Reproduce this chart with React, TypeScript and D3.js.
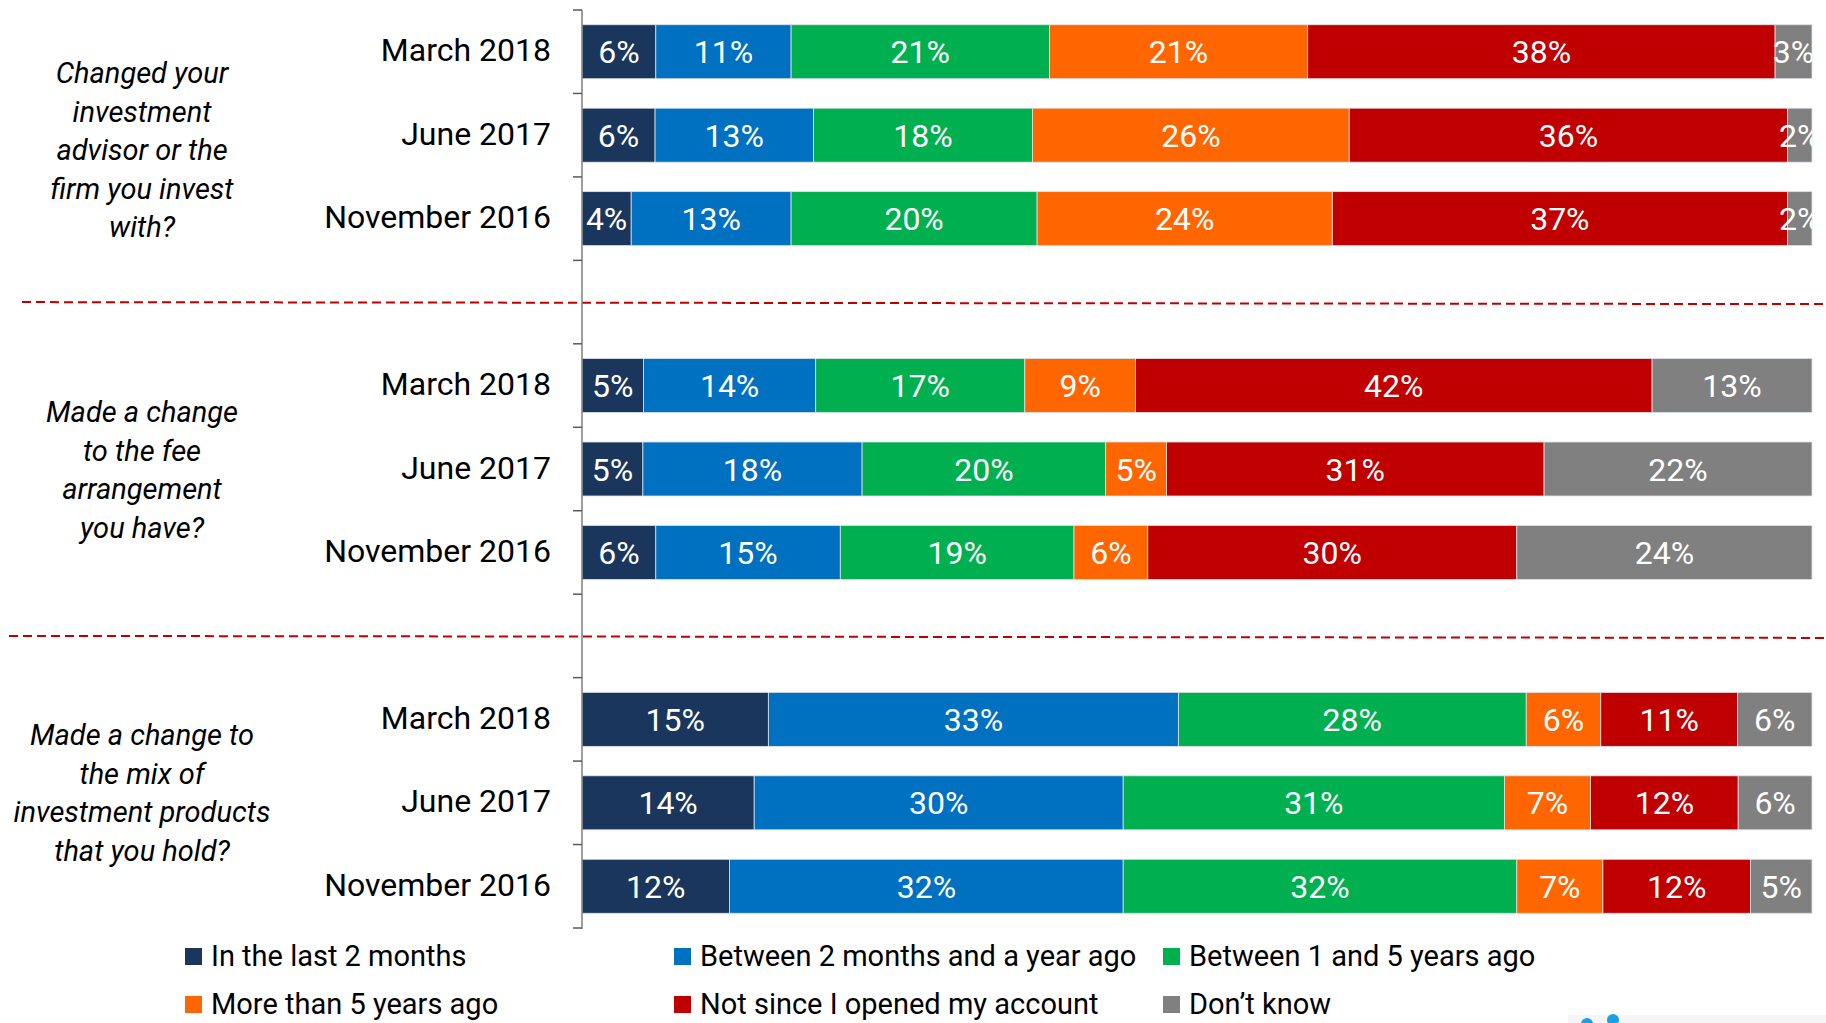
import React from "react";
import * as d3 from "d3";

// ---------- data ----------
const periods = ["March 2018", "June 2017", "November 2016"];

const questionLines = [
  ["Changed your", "investment", "advisor or the", "firm you invest", "with?"],
  ["Made a change", "to the fee", "arrangement", "you have?"],
  ["Made a change to", "the mix of", "investment products", "that you hold?"],
];

const seriesNames = [
  "In the last 2 months",
  "Between 2 months and a year ago",
  "Between 1 and 5 years ago",
  "More than 5 years ago",
  "Not since I opened my account",
  "Don\u2019t know",
];

const seriesColors = ["#1B365D", "#0070C0", "#00B050", "#FF6600", "#C00000", "#808080"];

// values per period (March 2018, June 2017, November 2016), per series
const advisorValues = [
  [6, 11, 21, 21, 38, 3],
  [6, 13, 18, 26, 36, 2],
  [4, 13, 20, 24, 37, 2],
];
const feeValues = [
  [5, 14, 17, 9, 42, 13],
  [5, 18, 20, 5, 31, 22],
  [6, 15, 19, 6, 30, 24],
];
const mixValues = [
  [15, 33, 28, 6, 11, 6],
  [14, 30, 31, 7, 12, 6],
  [12, 32, 32, 7, 12, 5],
];
const questionValues = [advisorValues, feeValues, mixValues];

// ---------- layout ----------
const W = 1826;
const H = 1023;
const AXIS_X = 582;
const PLOT_RIGHT = 1812;
const PLOT_TOP = 10;
const PLOT_BOTTOM = 928;
const FONT = "Roboto, 'Open Sans', sans-serif";
const groupLabelCenterY = [150, 470, 793];
const groupLabelX = 142;
const groupLineGap = 38.5;
const separatorStartX = [22, 9];

export default function App() {
  // band keys: 3 rows per question with a blank gap band between groups
  const keys: string[] = [];
  questionValues.forEach((_, qi) => {
    periods.forEach((_, pi) => keys.push(`q${qi}-p${pi}`));
    if (qi < questionValues.length - 1) keys.push(`gap${qi}`);
  });

  const y = d3.scaleBand<string>().domain(keys).range([PLOT_TOP, PLOT_BOTTOM]).padding(0);
  const x = d3.scaleLinear().domain([0, 1]).range([AXIS_X, PLOT_RIGHT]);
  const barH = y.bandwidth() * 0.647;

  const stack = d3
    .stack<number[]>()
    .keys(seriesNames.map((_, i) => String(i)))
    .value((d, key) => d[+key] / d3.sum(d))
    .offset(d3.stackOffsetNone);

  const tickYs = keys.map((k) => y(k) as number).concat([PLOT_BOTTOM]);

  const legendCols = [185, 674, 1163];
  const legendRows = [956, 1004];

  return (
    <svg
      width={W}
      height={H}
      style={{ position: "absolute", left: 0, top: 0, background: "#fff" }}
      fontFamily={FONT}
    >
      <defs>
        <clipPath id="plotClip">
          <rect x={AXIS_X} y={0} width={PLOT_RIGHT - AXIS_X} height={H} />
        </clipPath>
      </defs>

      {/* dashed separators */}
      {questionValues.slice(0, -1).map((_, qi) => {
        const gy = (y(`gap${qi}`) as number) + y.bandwidth() / 2;
        return (
          <line
            key={`sep${qi}`}
            x1={separatorStartX[qi]}
            x2={W}
            y1={gy}
            y2={gy + 2}
            stroke="#C00000"
            strokeWidth={2}
            strokeDasharray="9 5"
          />
        );
      })}

      {/* bars */}
      {questionValues.map((rows, qi) => {
        const layers = stack(rows);
        return (
          <g key={`q${qi}`}>
            {layers.map((layer, si) =>
              layer.map((seg, pi) => {
                const key = `q${qi}-p${pi}`;
                const cy = (y(key) as number) + y.bandwidth() / 2;
                const x0 = x(seg[0]);
                const x1 = x(seg[1]);
                return (
                  <rect
                    key={`${si}-${pi}`}
                    x={x0}
                    y={cy - barH / 2}
                    width={x1 - x0}
                    height={barH}
                    fill={seriesColors[si]}
                    stroke="#dde3ea"
                    strokeWidth={0.8}
                  />
                );
              })
            )}
            <g clipPath="url(#plotClip)">
              {layers.map((layer, si) =>
                layer.map((seg, pi) => {
                  const key = `q${qi}-p${pi}`;
                  const cy = (y(key) as number) + y.bandwidth() / 2;
                  const cx = (x(seg[0]) + x(seg[1])) / 2;
                  return (
                    <text
                      key={`t${si}-${pi}`}
                      x={cx}
                      y={cy}
                      dy="0.36em"
                      textAnchor="middle"
                      fill="#fff"
                      fontSize={32}
                    >
                      {rows[pi][si]}%
                    </text>
                  );
                })
              )}
            </g>
          </g>
        );
      })}

      {/* axis */}
      <line x1={AXIS_X} x2={AXIS_X} y1={PLOT_TOP} y2={PLOT_BOTTOM + 1} stroke="#7f7f7f" strokeWidth={1.5} />
      {tickYs.map((ty, i) => (
        <line key={`tk${i}`} x1={AXIS_X - 9} x2={AXIS_X} y1={ty} y2={ty} stroke="#595959" strokeWidth={1.5} />
      ))}

      {/* category labels */}
      {questionValues.map((_, qi) =>
        periods.map((p, pi) => {
          const key = `q${qi}-p${pi}`;
          const cy = (y(key) as number) + y.bandwidth() / 2;
          return (
            <text key={key} x={551} y={cy} dy="0.3em" textAnchor="end" fontSize={32} fill="#000">
              {p}
            </text>
          );
        })
      )}

      {/* question labels */}
      {questionLines.map((lines, qi) => {
        const c = groupLabelCenterY[qi];
        const start = c - ((lines.length - 1) * groupLineGap) / 2;
        return (
          <g key={`ql${qi}`}>
            {lines.map((ln, li) => (
              <text
                key={li}
                x={groupLabelX}
                y={start + li * groupLineGap}
                dy="0.35em"
                textAnchor="middle"
                fontStyle="italic"
                fontSize={29}
                fill="#000"
              >
                {ln}
              </text>
            ))}
          </g>
        );
      })}

      {/* legend */}
      {seriesNames.map((name, i) => {
        const col = i % 3;
        const row = Math.floor(i / 3);
        const lx = legendCols[col];
        const ly = legendRows[row];
        return (
          <g key={`lg${i}`}>
            <rect x={lx} y={ly - 8} width={17} height={17} fill={seriesColors[i]} />
            <text x={lx + 26} y={ly} dy="0.35em" fontSize={29} fill="#000">
              {name}
            </text>
          </g>
        );
      })}

      {/* cut-off logo at bottom right */}
      <rect x={1568} y={1015} width={258} height={8} fill="#f5f5f5" />
      <circle cx={1587} cy={1024} r={6} fill="#1BA1E2" />
      <circle cx={1613} cy={1020} r={6} fill="#1BA1E2" />
    </svg>
  );
}
